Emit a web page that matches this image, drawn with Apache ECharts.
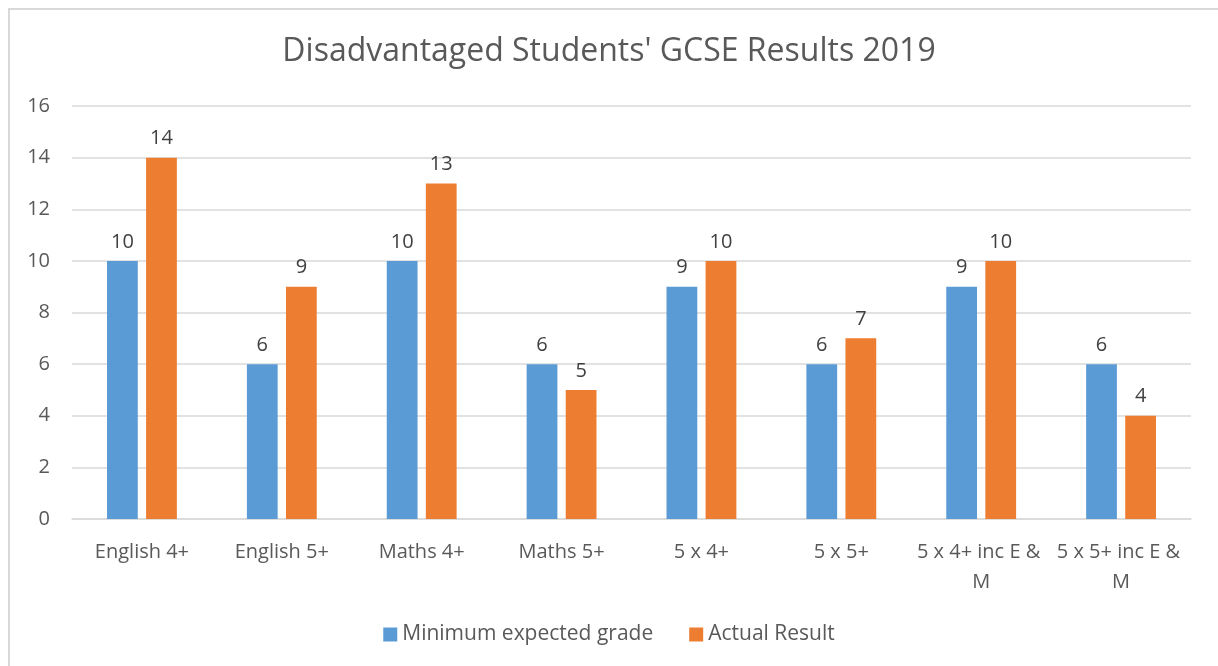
<!DOCTYPE html>
<html>
<head>
    <meta charset="UTF-8">
    <title>GCSE Results 2019</title>
    <script src="https://cdn.jsdelivr.net/npm/echarts@6/dist/echarts.min.js"></script>
    <style>
        *{ padding:0; margin:0; }
        body{ background:#fff; width:1218px; height:666px; overflow:hidden; position:relative; }
        #frame{
            position:absolute; left:8px; top:8px; width:1240px; height:700px;
            border-left:2px solid #d9d9d9; border-top:2px solid #d9d9d9;
        }
        #main{ position:absolute; left:0; top:0; width:1218px; height:666px; }
    </style>
</head>
<body>
<div id="frame"></div>
<div id="main"></div>
<script>
var categories = ['English 4+', 'English 5+', 'Maths 4+', 'Maths 5+', '5 x 4+', '5 x 5+', '5 x 4+ inc E & M', '5 x 5+ inc E & M'];
var minExpected = [10, 6, 10, 6, 9, 6, 9, 6];
var actualResult = [14, 9, 13, 5, 10, 7, 10, 4];

var font = '"Open Sans", "Liberation Sans", sans-serif';
var myChart = echarts.init(document.getElementById('main'));

var option = {
    animation: false,
    textStyle: { fontFamily: font },
    title: {
        text: "Disadvantaged Students' GCSE Results 2019",
        left: 'center',
        top: 31,
        textStyle: { fontFamily: font, fontSize: 32, fontWeight: 'normal', color: '#595959' }
    },
    legend: {
        bottom: 16,
        left: 'center',
        itemWidth: 14,
        itemHeight: 14,
        itemGap: 36,
        icon: 'rect',
        textStyle: { fontFamily: font, fontSize: 21, color: '#595959' },
        data: ['Minimum expected grade', 'Actual Result']
    },
    grid: { left: 72, right: 27, top: 106, bottom: 147, containLabel: false },
    xAxis: {
        type: 'category',
        data: categories,
        axisLine: { lineStyle: { color: '#d9d9d9', width: 1.5 } },
        axisTick: { show: false },
        axisLabel: {
            color: '#595959', fontSize: 20, fontFamily: font, margin: 18,
            width: 138, overflow: 'break', lineHeight: 30, interval: 0
        }
    },
    yAxis: {
        type: 'value',
        min: 0, max: 16, interval: 2,
        axisLine: { show: false },
        axisTick: { show: false },
        splitLine: { lineStyle: { color: '#d9d9d9', width: 1.5 } },
        axisLabel: { color: '#595959', fontSize: 20, fontFamily: font, margin: 22 }
    },
    series: [
        {
            name: 'Minimum expected grade',
            type: 'bar',
            data: minExpected,
            barWidth: '22%',
            barGap: '27%',
            itemStyle: { color: '#5b9bd5' },
            label: { show: true, position: 'top', distance: 9, color: '#404040', fontSize: 20, fontFamily: font }
        },
        {
            name: 'Actual Result',
            type: 'bar',
            data: actualResult,
            barWidth: '22%',
            itemStyle: { color: '#ed7d31' },
            label: { show: true, position: 'top', distance: 9, color: '#404040', fontSize: 20, fontFamily: font }
        }
    ]
};

myChart.setOption(option);
</script>
</body>
</html>
